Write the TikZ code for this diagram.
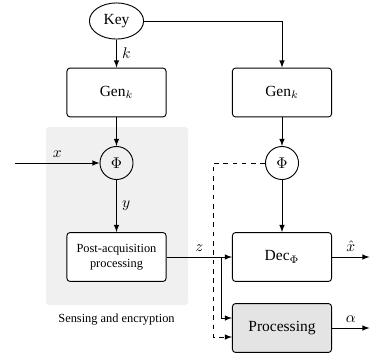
\documentclass[tikz,border=0pt]{standalone}
\usepackage{fontspec}
\setmainfont{Liberation Serif}
\usetikzlibrary{shapes.geometric,calc}
\begin{document}
\begin{tikzpicture}[x=0.0227cm,y=-0.0227cm]
	\tikzstyle{fleche}=[->,>=latex,line width=0.6pt]
	\tikzstyle{bloc}=[draw,line width=0.6pt,rounded corners=2pt,minimum width=2.25cm,minimum height=1.11cm,align=center]
	\tikzstyle{rond}=[draw,circle,line width=0.6pt,minimum size=0.75cm,inner sep=0pt]
	\tikzstyle{cle}=[draw,ellipse,line width=0.6pt,minimum width=1.23cm,minimum height=0.82cm,inner sep=0pt]
	\tikzstyle{etiquette}=[midway]
	
	\def\ColGauche{116.5}
	\def\ColDroite{282}
	\def\NiveauA{21}
	\def\NiveauB{92.5}
	\def\NiveauC{163}
	\def\NiveauD{257}
	\def\NiveauE{328}
	
	\useasboundingbox (0,0) rectangle (370,356);
	\fill[gray!12,rounded corners=2pt] (46,127) rectangle (188,305);
	
	\node[cle] (Cle) at (\ColGauche,\NiveauA) {Key};
	\node[bloc] (GenA) at (\ColGauche,\NiveauB) {Gen$_k$};
	\node[bloc] (GenB) at (\ColDroite,\NiveauB) {Gen$_k$};
	\node[rond] (PhiA) at (\ColGauche,\NiveauC) {$\Phi$};
	\node[rond] (PhiB) at (\ColDroite,\NiveauC) {$\Phi$};
	\node[bloc,fill=white,font=\footnotesize] (Post) at (\ColGauche,\NiveauD) {Post-acquisition\\processing};
	\node[bloc] (Dec) at (\ColDroite,\NiveauD) {Dec$_\Phi$};
	\node[bloc,fill=gray!21] (Proc) at (\ColDroite,\NiveauE) {Processing};
	\node[font=\footnotesize] (Legende) at (\ColGauche,320) {Sensing and encryption};
	
	\coordinate (Entree) at (15,\NiveauC);
	\coordinate (Bif) at (221,\NiveauD);
	\coordinate (Coude) at (213,\NiveauC);
	\coordinate (SortieA) at (369.5,\NiveauD);
	\coordinate (SortieB) at (369.5,\NiveauE);
	
	\draw[fleche] (Cle)--(GenA) node[etiquette,right] {$k$};
	\draw[fleche] (Cle.east)-|(GenB);
	\draw[fleche] (GenA)--(PhiA);
	\draw[fleche] (GenB)--(PhiB);
	\draw[fleche] (Entree)--(PhiA) node[etiquette,above] {$x$};
	\draw[fleche] (PhiA)--(Post) node[etiquette,right] {$y$};
	\draw[fleche] (PhiB)--(Dec);
	\draw[fleche] (Post)--(Dec) node[etiquette,above] {$z$};
	\draw[fleche] (Bif)|-($(Proc.west)+(0,-10)$);
	\draw[fleche,dashed] (PhiB.west)--(Coude)|-($(Proc.west)+(0,9)$);
	\draw[fleche] (Dec)--(SortieA) node[etiquette,above] {$\hat{x}$};
	\draw[fleche] (Proc)--(SortieB) node[etiquette,above] {$\alpha$};
\end{tikzpicture}
\end{document}
